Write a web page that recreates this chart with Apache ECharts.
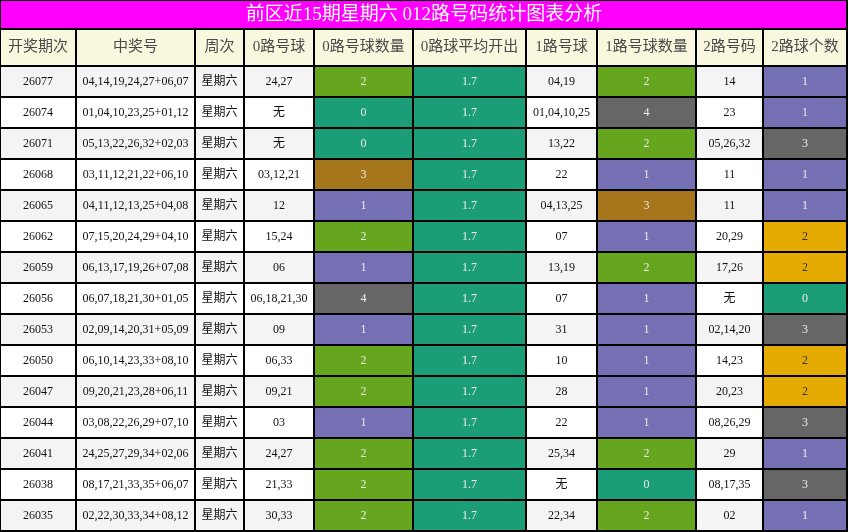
<!DOCTYPE html>
<html>
<head>
<meta charset="utf-8">
<title>前区近15期星期六 012路号码统计图表分析</title>
<script src="https://cdn.jsdelivr.net/npm/echarts@6/dist/echarts.min.js"></script>
<style>
  html, body { margin: 0; padding: 0; background: #fff; }
  #chart { width: 848px; height: 532px; }
</style>
</head>
<body>
<div id="chart"></div>
<script>
  // table data
  const titleText = '前区近15期星期六 012路号码统计图表分析';
  const headers = ['开奖期次', '中奖号', '周次', '0路号球', '0路号球数量', '0路球平均开出', '1路号球', '1路号球数量', '2路号码', '2路球个数'];
  const periods = ['26077', '26074', '26071', '26068', '26065', '26062', '26059', '26056', '26053', '26050', '26047', '26044', '26041', '26038', '26035'];
  const draws = [
    '04,14,19,24,27+06,07', '01,04,10,23,25+01,12', '05,13,22,26,32+02,03', '03,11,12,21,22+06,10',
    '04,11,12,13,25+04,08', '07,15,20,24,29+04,10', '06,13,17,19,26+07,08', '06,07,18,21,30+01,05',
    '02,09,14,20,31+05,09', '06,10,14,23,33+08,10', '09,20,21,23,28+06,11', '03,08,22,26,29+07,10',
    '24,25,27,29,34+02,06', '08,17,21,33,35+06,07', '02,22,30,33,34+08,12'
  ];
  const weekdays = ['星期六', '星期六', '星期六', '星期六', '星期六', '星期六', '星期六', '星期六', '星期六', '星期六', '星期六', '星期六', '星期六', '星期六', '星期六'];
  const zeroBalls = ['24,27', '无', '无', '03,12,21', '12', '15,24', '06', '06,18,21,30', '09', '06,33', '09,21', '03', '24,27', '21,33', '30,33'];
  const zeroCounts = [2, 0, 0, 3, 1, 2, 1, 4, 1, 2, 2, 1, 2, 2, 2];
  const zeroAvg = [1.7, 1.7, 1.7, 1.7, 1.7, 1.7, 1.7, 1.7, 1.7, 1.7, 1.7, 1.7, 1.7, 1.7, 1.7];
  const oneBalls = ['04,19', '01,04,10,25', '13,22', '22', '04,13,25', '07', '13,19', '07', '31', '10', '28', '22', '25,34', '无', '22,34'];
  const oneCounts = [2, 4, 2, 1, 3, 1, 2, 1, 1, 1, 1, 1, 2, 0, 2];
  const twoBalls = ['14', '23', '05,26,32', '11', '11', '20,29', '17,26', '无', '02,14,20', '14,23', '20,23', '08,26,29', '29', '08,17,35', '02'];
  const twoCounts = [1, 1, 3, 1, 1, 2, 2, 0, 3, 2, 2, 3, 1, 3, 1];

  // layout / style
  const colWidths = [76, 119, 49, 70, 99, 113, 71, 99, 67, 84];
  const headerHeight = 37;
  const rowHeight = 31;
  const titleHeight = 29;
  const FONT = '"Liberation Serif", "Noto Sans CJK SC", serif';
  const COUNT_COLORS = { 0: '#1b9e77', 1: '#7570b3', 2: '#66a61e', 3: '#a6761d', 4: '#666666' };
  const TWO_COLORS = { 0: '#1b9e77', 1: '#7570b3', 2: '#e6ab02', 3: '#666666' };
  const AVG_COLOR = '#1b9e77';

  const colEdges = [0];
  colWidths.forEach(w => colEdges.push(colEdges[colEdges.length - 1] + w));
  const rowEdges = [0, headerHeight];
  periods.forEach(() => rowEdges.push(rowEdges[rowEdges.length - 1] + rowHeight));

  const plain = v => ({ text: String(v), bg: null, color: '#111' });
  const colored = (v, map) => {
    const bg = map[v];
    return { text: String(v), bg, color: bg === '#e6ab02' ? '#333' : '#ececec' };
  };

  const columns = [
    periods.map(plain),
    draws.map(plain),
    weekdays.map(plain),
    zeroBalls.map(plain),
    zeroCounts.map(v => colored(v, COUNT_COLORS)),
    zeroAvg.map(v => ({ text: v.toFixed(1), bg: AVG_COLOR, color: '#ececec' })),
    oneBalls.map(plain),
    oneCounts.map(v => colored(v, COUNT_COLORS)),
    twoBalls.map(plain),
    twoCounts.map(v => colored(v, TWO_COLORS)),
  ];

  const cells = [];
  headers.forEach((h, c) => {
    cells.push({ value: [c, 0], text: h, bg: '#f9f7de', color: '#4a4a4a', size: 15 });
  });
  periods.forEach((p, i) => {
    const rowBg = i % 2 === 0 ? '#f4f4f4' : '#ffffff';
    columns.forEach((col, c) => {
      const cell = col[i];
      cells.push({
        value: [c, i + 1],
        text: cell.text,
        bg: cell.bg || rowBg,
        color: cell.color,
        size: 12,
      });
    });
  });

  const chart = echarts.init(document.getElementById('chart'));

  chart.setOption({
    animation: false,
    backgroundColor: '#fff',
    grid: { left: 0, right: 1, top: titleHeight, bottom: 1 },
    xAxis: { type: 'value', min: 0, max: colEdges[colEdges.length - 1], show: false },
    yAxis: { type: 'value', min: 0, max: rowEdges[rowEdges.length - 1], inverse: true, show: false },
    graphic: [
      {
        type: 'rect',
        shape: { x: 0, y: 0, width: 847, height: titleHeight },
        style: { fill: '#ff00ff', stroke: '#000', lineWidth: 2 },
        z: 10,
      },
      {
        type: 'text',
        x: 424,
        y: 15,
        style: {
          text: titleText,
          fill: '#fff',
          font: '19px ' + FONT,
          align: 'center',
          verticalAlign: 'middle',
        },
        z: 11,
      },
    ],
    series: [
      {
        type: 'custom',
        coordinateSystem: 'cartesian2d',
        data: cells.map(c => c.value),
        renderItem(params, api) {
          const c = api.value(0);
          const r = api.value(1);
          const p0 = api.coord([colEdges[c], rowEdges[r]]);
          const p1 = api.coord([colEdges[c + 1], rowEdges[r + 1]]);
          const cell = cells[params.dataIndex];
          const x = Math.round(p0[0]);
          const y = Math.round(p0[1]);
          return {
            type: 'rect',
            shape: { x, y, width: Math.round(p1[0]) - x, height: Math.round(p1[1]) - y },
            style: { fill: cell.bg, stroke: '#000', lineWidth: 2 },
            textContent: {
              style: {
                text: cell.text,
                fill: cell.color,
                font: cell.size + 'px ' + FONT,
              },
            },
            textConfig: { position: 'inside' },
          };
        },
      },
    ],
  });
</script>
</body>
</html>
